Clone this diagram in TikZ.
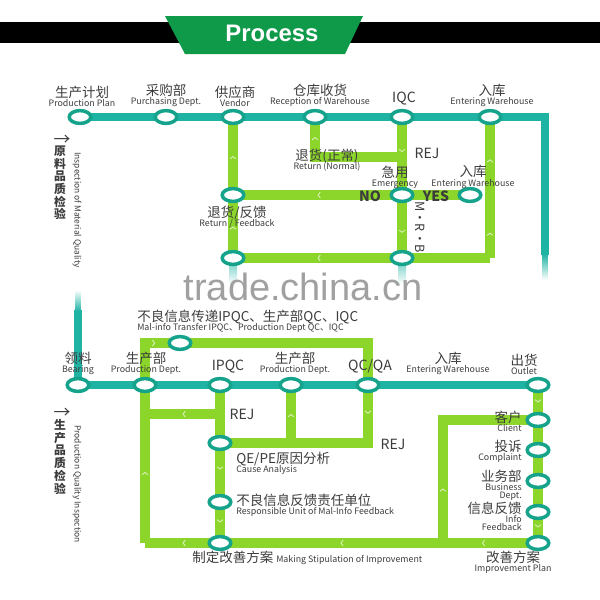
\documentclass[tikz,border=0pt]{standalone}
\usepackage{fontspec}
\setmainfont{Noto Sans CJK SC}
\newfontfamily\titlefont{Liberation Sans}
\usepackage{xcolor}
\definecolor{titleGreen}{HTML}{0F9A4A}
\definecolor{lineTeal}{HTML}{1FB3A4}
\definecolor{lineLime}{HTML}{8CD52B}
\definecolor{ringTeal}{HTML}{16A38C}
\definecolor{labelText}{HTML}{3C3C3C}
\definecolor{markGray}{HTML}{A0A0A0}
\usepackage{tikz}
\usetikzlibrary{
    shapes.geometric,
    arrows.meta,
    decorations.markings,
    backgrounds
}
\newcommand{\ensz}{\fontsize{6.3}{7}\selectfont}
\newcommand{\cnsz}{\fontsize{9.6}{10}\selectfont}
\newcommand{\cnen}[2]{{\cnsz #1}\\[-3.5pt]{\ensz #2}}
\tikzset{
    % Station rings sitting on the routes
    station/.style={
        ellipse,
        draw=ringTeal,
        line width=2.5pt,
        fill=white,
        minimum width=0.54cm,
        minimum height=0.32cm,
        inner sep=0pt,
    },
    % Main teal route
    main line/.style={
        draw=lineTeal,
        line width=5pt,
    },
    % Lime side routes
    side line/.style={
        draw=lineLime,
        line width=6.5pt,
    },
    % Small chevron for the flow direction
    flow/.style={
        postaction={decorate, decoration={markings,
            mark=at position #1 with {\arrow{Straight Barb[length=1.6pt, width=4.2pt, line width=0.6pt, color=white!70!lineLime]}}}},
    },
    flow/.default=0.5,
    % Chinese over English labels
    stop label/.style={
        font=\cnsz,
        align=center,
        inner sep=0pt,
        text=labelText,
    },
    % Single word labels (IQC, REJ ...)
    big label/.style={
        font=\fontsize{10}{11}\selectfont,
        inner sep=0pt,
        text=labelText,
    },
    % Stacked side heading
    side head/.style={
        font=\bfseries\fontsize{8.4}{6.9}\selectfont,
        align=center,
        inner sep=0pt,
        text=labelText,
    },
    side sub/.style={
        font=\fontsize{6}{6}\selectfont,
        inner sep=0pt,
        text=labelText,
        rotate=-90,
        anchor=west,
    },
}

\begin{document}
\begin{tikzpicture}[x=0.025cm, y=-0.025cm]
    \useasboundingbox (0,0) rectangle (600,600);

    % banner
    \fill[black] (0,22) rectangle (600,43);
    \fill[titleGreen] (165,16) -- (363,16) -- (345,54) -- (185,54) -- cycle;
    \node (title) [font=\titlefont\bfseries\fontsize{17}{20}\selectfont, text=white] at (272,33) {Process};

    % material inspection
    \node (pplan) [station] at (80,117) {};
    \node (purch) [station] at (166,117) {};
    \node (vendor) [station] at (233,117) {};
    \node (recep) [station] at (315,117) {};
    \node (iqc) [station] at (402,117) {};
    \node (entw) [station] at (490,117) {};
    \node (rfb) [station] at (233,195) {};
    \node (rfb_low) [station] at (233,258) {};
    \node (emg) [station] at (402,195) {};
    \node (entw_emg) [station] at (470,195) {};
    \node (mrb) [station] at (402,258) {};
    \coordinate (t_turn) at (545,117);
    \coordinate (t_end) at (545,255);
    \coordinate (rej_turn) at (402,157);
    \coordinate (rn_turn) at (315,157);
    \coordinate (ent_turn) at (490,258);

    \node (pplan_lbl) [stop label, anchor=south] at (82,107) {\cnen{生产计划}{Production Plan}};
    \node (purch_lbl) [stop label, anchor=south] at (166,107) {\cnen{采购部}{Purchasing Dept.}};
    \node (vendor_lbl) [stop label, anchor=south] at (235,107) {\cnen{供应商}{Vendor}};
    \node (recep_lbl) [stop label, anchor=south] at (320,107) {\cnen{仓库收货}{Reception of Warehouse}};
    \node (iqc_lbl) [big label, anchor=south] at (404,105) {IQC};
    \node (entw_lbl) [stop label, anchor=south] at (492,107) {\cnen{入库}{Entering Warehouse}};
    \node (rn_lbl) [stop label] at (327,160) {\cnen{退货(正常)}{Return (Normal)}};
    \node (rej_top) [big label] at (427,153) {REJ};
    \node (emg_lbl) [stop label] at (395,177) {\cnen{急用}{Emergency}};
    \node (entw_emg_lbl) [stop label] at (473,177) {\cnen{入库}{Entering Warehouse}};
    \node (no_lbl) [big label, font=\bfseries\fontsize{10}{11}\selectfont] at (370,196) {NO};
    \node (yes_lbl) [big label, font=\bfseries\fontsize{10}{11}\selectfont] at (436,196) {YES};
    \node (mrb_lbl) [big label, font=\fontsize{9}{10}\selectfont, rotate=-90] at (420,227) {M·R·B};
    \node (rfb_lbl) [stop label] at (237,217) {\cnen{退货/反馈}{Return / Feedback}};

    \node (mat_arrow) [big label, font=\fontsize{12}{12}\selectfont] at (62,140) {→};
    \node (mat_head) [side head] at (60,183) {原\\料\\品\\质\\检\\验};
    \node (mat_sub) [side sub] at (77,152) {Inspection of Material Quality};

    \node (mark) [font=\titlefont\fontsize{27}{30}\selectfont, text=markGray] at (303,287) {trade.china.cn};

    % production inspection
    \node (bear) [station] at (78,385) {};
    \node (prod1) [station] at (145,385) {};
    \node (ipqc) [station] at (220,385) {};
    \node (prod2) [station] at (291,385) {};
    \node (qcqa) [station] at (368,385) {};
    \node (outlet) [station] at (538,385) {};
    \node (malinfo) [station] at (180,343) {};
    \node (qepe) [station] at (220,443) {};
    \node (resp) [station] at (220,502) {};
    \node (mstip) [station] at (220,543) {};
    \node (client) [station] at (538,420) {};
    \node (compl) [station] at (538,450) {};
    \node (busi) [station] at (538,481) {};
    \node (info) [station] at (538,512) {};
    \node (imprv) [station] at (538,543) {};
    \coordinate (b_top) at (78,310);
    \coordinate (mi_left) at (145,343);
    \coordinate (mi_right) at (368,343);
    \coordinate (qc_turn) at (368,443);
    \coordinate (p2_turn) at (291,443);
    \coordinate (rej_ip) at (220,414);
    \coordinate (rej_left) at (145,414);
    \coordinate (b_left) at (145,543);
    \coordinate (b_mid) at (443,543);
    \coordinate (c_turn) at (443,420);

    \node (malinfo_lbl) [stop label, align=left, anchor=west] at (137,321) {\cnen{不良信息传递IPQC、生产部QC、IQC}{Mal-info Transfer IPQC、Production Dept QC、IQC}};
    \node (bear_lbl) [stop label, anchor=south] at (78,375) {\cnen{领料}{Bearing}};
    \node (prod1_lbl) [stop label, anchor=south] at (146,375) {\cnen{生产部}{Production Dept.}};
    \node (ipqc_lbl) [big label, anchor=south] at (228,373) {IPQC};
    \node (prod2_lbl) [stop label, anchor=south] at (295,375) {\cnen{生产部}{Production Dept.}};
    \node (qcqa_lbl) [big label, anchor=south] at (370,373) {QC/QA};
    \node (entw_out_lbl) [stop label, anchor=south] at (448,375) {\cnen{入库}{Entering Warehouse}};
    \node (outlet_lbl) [stop label, anchor=south] at (524,375) {\cnen{出货}{Outlet}};
    \node (rej_mid) [big label] at (242,414) {REJ};
    \node (rej_low) [big label] at (393,444) {REJ};
    \node (qepe_lbl) [stop label, align=left, anchor=west] at (236,463) {\cnen{QE/PE原因分析}{Cause Analysis}};
    \node (resp_lbl) [stop label, align=left, anchor=west] at (236,505) {\cnen{不良信息反馈责任单位}{Responsible Unit of Mal-Info Feedback}};
    \node (mstip_lbl) [stop label, anchor=west] at (192,558) {制定改善方案 {\ensz Making Stipulation of Improvement}};
    \node (client_lbl) [stop label, align=right, anchor=east] at (522,421) {\cnen{客户}{Client}};
    \node (compl_lbl) [stop label, align=right, anchor=east] at (522,451) {\cnen{投诉}{Complaint}};
    \node (busi_lbl) [stop label, align=right, anchor=east] at (522,485) {\cnen{业务部}{Business}\\[-4.3pt]{\ensz Dept.}};
    \node (info_lbl) [stop label, align=right, anchor=east] at (522,516) {\cnen{信息反馈}{Info}\\[-4.3pt]{\ensz Feedback}};
    \node (imprv_lbl) [stop label] at (513,562) {\cnen{改善方案}{Improvement Plan}};

    \node (prod_arrow) [big label, font=\fontsize{12}{12}\selectfont] at (62,413) {→};
    \node (prod_head) [side head] at (60,457) {生\\产\\品\\质\\检\\验};
    \node (prod_sub) [side sub] at (77,425) {Production Quality Inspection};

    \begin{scope}[on background layer]
        % teal main routes
        \draw[main line] (pplan.center) -- (t_turn) -- (t_end);
        \draw[main line] (b_top) -- (bear.center) -- (outlet.center);
        \shade[top color=lineTeal, bottom color=white] (542.5,254) rectangle (547.5,280);
        \shade[top color=white, bottom color=lineTeal] (75.5,290) rectangle (80.5,311);
        \shade[top color=lineTeal!60, bottom color=white] (229,262) rectangle (237,284);
        \shade[top color=lineTeal!60, bottom color=white] (398,262) rectangle (406,284);

        % material routes
        \draw[side line, flow] (rfb_low.center) -- (rfb.center);
        \draw[side line, flow] (rfb.center) -- (vendor.center);
        \draw[side line, flow=0.21, flow=0.88] (iqc.center) -- (rej_turn) -- (rn_turn) -- (recep.center);
        \draw[side line] (rej_turn) -- (emg.center);
        \draw[side line, flow=0.6] (emg.center) -- (mrb.center);
        \draw[side line, flow] (emg.center) -- (rfb.center);
        \draw[side line] (emg.center) -- (entw_emg.center);
        \draw[side line, flow] (mrb.center) -- (rfb_low.center);
        \draw[side line] (mrb.center) -- (ent_turn);
        \draw[side line, flow=0.18, flow=0.7] (ent_turn) -- (entw.center);

        % production routes
        \draw[side line, flow=0.17] (prod1.center) -- (mi_left) -- (mi_right) -- (qcqa.center);
        \draw[side line, flow=0.14] (qcqa.center) -- (qc_turn) -- (qepe.center);
        \draw[side line, flow] (p2_turn) -- (prod2.center);
        \draw[side line] (ipqc.center) -- (qepe.center);
        \draw[side line, flow] (rej_ip) -- (rej_left);
        \draw[side line, flow=0.45] (qepe.center) -- (resp.center);
        \draw[side line, flow] (resp.center) -- (mstip.center);
        \draw[side line, flow=0.45] (b_left) -- (prod1.center);
        \draw[side line, flow=0.59] (imprv.center) -- (b_mid);
        \draw[side line, flow=0.46] (b_mid) -- (mstip.center);
        \draw[side line, flow] (mstip.center) -- (b_left);
        \draw[side line, flow] (outlet.center) -- (client.center);
        \draw[side line] (client.center) -- (compl.center) -- (busi.center) -- (info.center);
        \draw[side line, flow] (info.center) -- (imprv.center);
        \draw[side line, flow=0.25] (b_mid) -- (c_turn) -- (client.center);
    \end{scope}
\end{tikzpicture}
\end{document}
